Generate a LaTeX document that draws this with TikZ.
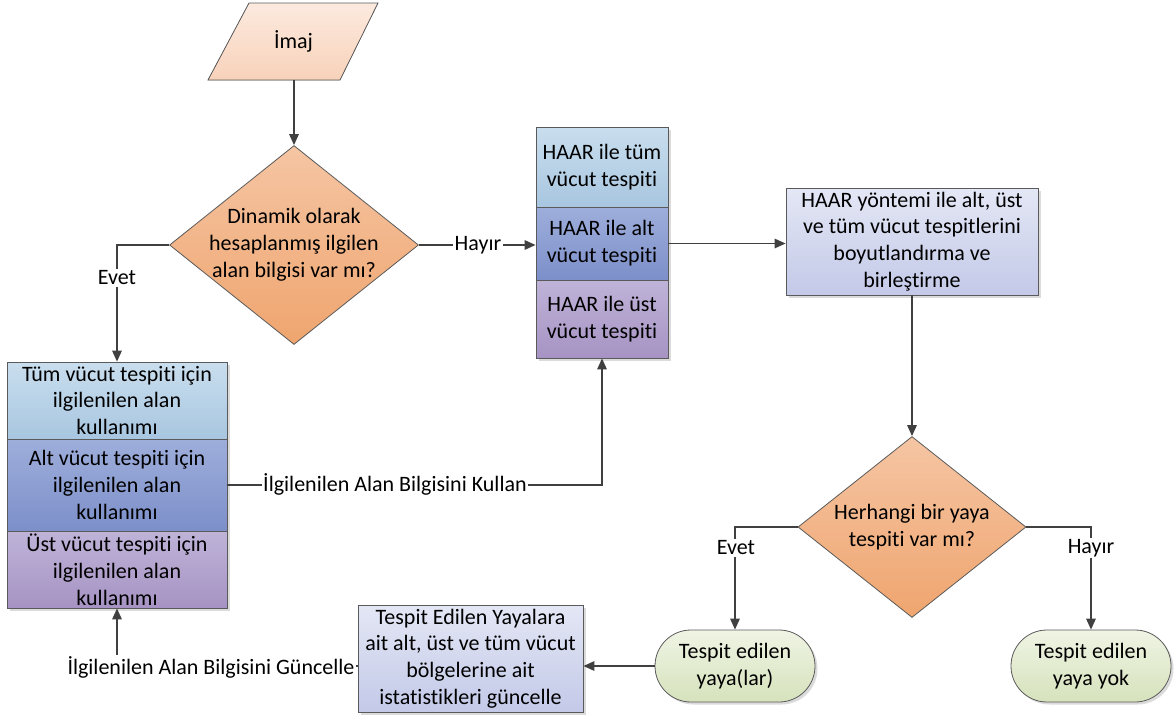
\documentclass[tikz,border=0pt]{standalone}
\usepackage{fontspec}
\setmainfont{Carlito}[Ligatures=NoCommon]
\usetikzlibrary{arrows.meta,shapes.geometric,shadows}

\definecolor{lineC}{HTML}{404040}
\definecolor{borderC}{HTML}{5A5A5A}
\definecolor{imgTop}{HTML}{FCEADF}
\definecolor{imgBot}{HTML}{F8D2BA}
\definecolor{decTop}{HTML}{F5C5A3}
\definecolor{decBot}{HTML}{EFA56F}
\definecolor{blueTop}{HTML}{C9DEEE}
\definecolor{blueBot}{HTML}{A8C6E0}
\definecolor{indTop}{HTML}{9EAEDB}
\definecolor{indBot}{HTML}{7C8FC9}
\definecolor{lavTop}{HTML}{BFB3D8}
\definecolor{lavBot}{HTML}{A693C3}
\definecolor{mrgTop}{HTML}{E4E7F5}
\definecolor{mrgBot}{HTML}{C3C9E8}
\definecolor{trmTop}{HTML}{EFF4E4}
\definecolor{trmBot}{HTML}{D6E2BC}

\tikzset{
  txt/.style={font=\fontsize{22}{26.8}\selectfont, align=center, text=black},
  softshadow/.style={drop shadow={shadow xshift=2.5pt, shadow yshift=-2.5pt, fill=black, opacity=0.14}},
  box/.style={txt, draw=borderC, line width=0.8pt, rectangle, inner sep=0pt, softshadow},
  bluebox/.style={box, top color=blueTop, bottom color=blueBot},
  indbox/.style={box, top color=indTop, bottom color=indBot},
  lavbox/.style={box, top color=lavTop, bottom color=lavBot},
  mrgbox/.style={box, top color=mrgTop, bottom color=mrgBot},
  termbox/.style={txt, draw=borderC, line width=0.8pt, rectangle, rounded corners=35.9pt,
    inner sep=0pt, minimum width=160pt, minimum height=72pt, softshadow,
    top color=trmTop, bottom color=trmBot},
  decision/.style={diamond, draw=borderC, line width=0.8pt, inner sep=0pt,
    top color=decTop, bottom color=decBot},
  conn/.style={draw=lineC, line width=1.5pt, -{Triangle[length=11pt,width=9.5pt]}},
  lbl/.style={txt, fill=white, inner sep=1.5pt}
}

\begin{document}
\begin{tikzpicture}[x=1pt, y=-1pt]
\useasboundingbox (0,0) rectangle (1176,726);

% input parallelogram
\filldraw[draw=borderC, line width=0.8pt, top color=imgTop, bottom color=imgBot]
  (249,3) -- (378,3) -- (340,80) -- (208,80) -- cycle;
\node[txt] (imaj) at (293.5,41.5) {İmaj};
\coordinate (imajb) at (294,80);

% first decision
\node[decision, minimum width=249pt, minimum height=199pt] (d1) at (294,245) {};
\node[txt] (d1t) at (d1.center) {Dinamik olarak\\hesaplanmış ilgilen\\alan bilgisi var mı?};

% HAAR detector stack
\node[bluebox, minimum width=132pt, minimum height=80pt] (h1) at (602,167) {HAAR ile tüm\\vücut tespiti};
\node[indbox,  minimum width=132pt, minimum height=73pt] (h2) at (602,243.5) {HAAR ile alt\\vücut tespiti};
\node[lavbox,  minimum width=132pt, minimum height=78pt] (h3) at (602,319) {HAAR ile üst\\vücut tespiti};

% merge step
\node[mrgbox, minimum width=252pt, minimum height=107pt] (mrg) at (912,241.5)
  {HAAR yöntemi ile alt, üst\\ve tüm vücut tespitlerini\\boyutlandırma ve\\birleştirme};

% second decision
\node[decision, minimum width=228pt, minimum height=181pt] (d2) at (912,527) {};
\node[txt] (d2t) at (d2.center) {Herhangi bir yaya\\tespiti var mı?};

% terminals
\node[termbox] (t1) at (735,666) {Tespit edilen\\yaya(lar)};
\node[termbox] (t2) at (1091,666) {Tespit edilen\\yaya yok};

% statistics update
\node[mrgbox, minimum width=225pt, minimum height=107pt] (upd) at (470.5,658.5)
  {Tespit Edilen Yayalara\\ait alt, üst ve tüm vücut\\bölgelerine ait\\istatistikleri güncelle};

% region-of-interest stack
\node[bluebox, minimum width=220pt, minimum height=77pt] (r1) at (117,400.5) {Tüm vücut tespiti için\\ilgilenilen alan\\kullanımı};
\node[indbox,  minimum width=220pt, minimum height=92pt] (r2) at (117,485) {Alt vücut tespiti için\\ilgilenilen alan\\kullanımı};
\node[lavbox,  minimum width=220pt, minimum height=77pt] (r3) at (117,569.5) {Üst vücut tespiti için\\ilgilenilen alan\\kullanımı};

% connectors
\draw[conn] (imajb) -- (d1.north);
\draw[conn] (d1.west) -| (r1.north);
\node[lbl] (evet1) at (117,278) {Evet};
\draw[conn] (d1.east) -- (d1.east -| h2.west);
\node[lbl] (hayir1) at (478,245) {Hayır};
\draw[conn] (h2.east) -- (h2.east -| mrg.west);
\draw[conn] (mrg.south) -- (d2.north);
\draw[conn] (d2.west) -| (t1.north);
\node[lbl] (evet2) at (736,548) {Evet};
\draw[conn] (d2.east) -| (t2.north);
\node[lbl] (hayir2) at (1091,548) {Hayır};
\draw[conn] (t1.west) -- (t1.west -| upd.east);
\draw[conn] (upd.west |- t1.west) -| (r3.south);
\node[lbl] (guncelle) at (211,667) {İlgilenilen Alan Bilgisini Güncelle};
\draw[conn] (r2.east) -| (h3.south);
\node[lbl] (kullan) at (395,484) {İlgilenilen Alan Bilgisini Kullan};
\end{tikzpicture}
\end{document}
